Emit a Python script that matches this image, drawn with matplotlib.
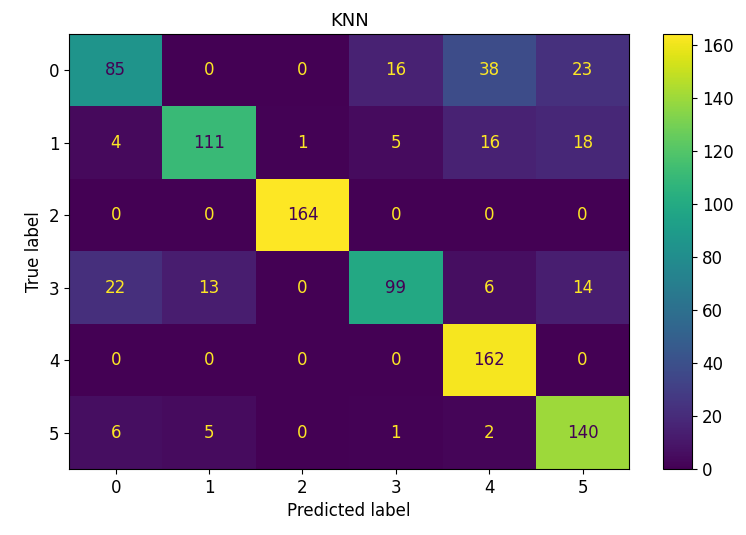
import matplotlib
matplotlib.use("Agg")
import matplotlib.pyplot as plt
import numpy as np

labels = ["0", "1", "2", "3", "4", "5"]
cm = np.array([
    [85, 0, 0, 16, 38, 23],
    [4, 111, 1, 5, 16, 18],
    [0, 0, 164, 0, 0, 0],
    [22, 13, 0, 99, 6, 14],
    [0, 0, 0, 0, 162, 0],
    [6, 5, 0, 1, 2, 140],
])

fig = plt.figure(figsize=(7.46, 5.35), dpi=100)
ax = fig.add_axes([0.0925, 0.123, 0.751, 0.813])
cax = fig.add_axes([0.889, 0.123, 0.039, 0.813])

cmap = plt.get_cmap("viridis")
im = ax.imshow(cm, cmap=cmap, aspect="auto", interpolation="nearest")

thresh = (cm.max() + cm.min()) / 2.0
for i in range(cm.shape[0]):
    for j in range(cm.shape[1]):
        color = cmap(0.0) if cm[i, j] > thresh else cmap(1.0)
        ax.text(j, i, str(cm[i, j]), ha="center", va="center", color=color, fontsize=12)

ax.set_xticks(range(len(labels)))
ax.set_xticklabels(labels)
ax.set_yticks(range(len(labels)))
ax.set_yticklabels(labels)
ax.tick_params(labelsize=12)
ax.set_xlabel("Predicted label", fontsize=12)
ax.set_ylabel("True label", fontsize=12)
ax.set_title("KNN", fontsize=13)

cb = fig.colorbar(im, cax=cax)
cb.ax.tick_params(labelsize=12)

fig.savefig("out.png", dpi=100)
